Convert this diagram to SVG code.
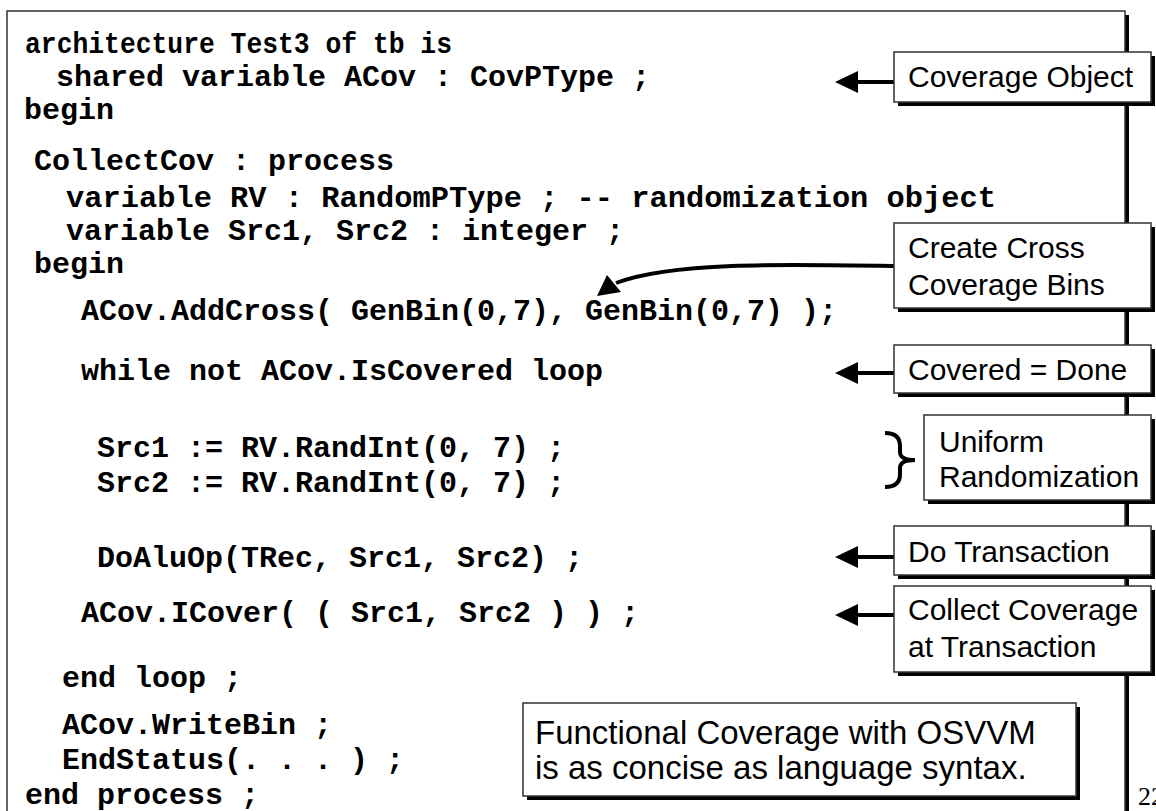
<svg xmlns="http://www.w3.org/2000/svg" width="1156" height="811" viewBox="0 0 1156 811">
<style>
.code{font-family:"Liberation Mono","Courier New",monospace;font-weight:bold;font-size:30px;fill:#000}
.lbl{font-family:"Liberation Sans",Arial,sans-serif;font-size:30px;fill:#000}
.big{font-family:"Liberation Sans",Arial,sans-serif;font-size:33px;fill:#000}
.box{fill:#fff;stroke:#333;stroke-width:1.5}
.shadow{fill:#000}
.conn{stroke:#000;stroke-width:4;fill:none}
</style>
<rect width="1156" height="811" fill="#fff"/>
<g id="frame">
<rect x="11" y="15" width="1118" height="900" class="shadow"/>
<rect x="7" y="11" width="1118" height="900" class="box"/>
</g>
<g id="code">
<text class="code" x="25" y="53" textLength="427" lengthAdjust="spacingAndGlyphs">architecture Test3 of tb is</text>
<text class="code" x="56" y="86">shared variable ACov : CovPType ;</text>
<text class="code" x="24" y="119">begin</text>
<text class="code" x="34" y="170">CollectCov : process</text>
<text class="code" x="66" y="207" textLength="930" lengthAdjust="spacingAndGlyphs">variable RV : RandomPType ; -- randomization object</text>
<text class="code" x="66" y="240">variable Src1, Src2 : integer ;</text>
<text class="code" x="34" y="273">begin</text>
<text class="code" x="81" y="320">ACov.AddCross( GenBin(0,7), GenBin(0,7) );</text>
<text class="code" x="81" y="380">while not ACov.IsCovered loop</text>
<text class="code" x="97" y="457">Src1 := RV.RandInt(0, 7) ;</text>
<text class="code" x="97" y="492">Src2 := RV.RandInt(0, 7) ;</text>
<text class="code" x="97" y="567">DoAluOp(TRec, Src1, Src2) ;</text>
<text class="code" x="81" y="622">ACov.ICover( ( Src1, Src2 ) ) ;</text>
<text class="code" x="62" y="687">end loop ;</text>
<text class="code" x="62" y="734">ACov.WriteBin ;</text>
<text class="code" x="62" y="769">EndStatus(. . . ) ;</text>
<text class="code" x="25" y="804">end process ;</text>
</g>
<g id="connectors">
<line class="conn" x1="894" y1="82" x2="856" y2="82"/>
<polygon points="835,82 858,71 858,93"/>
<path class="conn" d="M894,266 C780,264 670,262 616,283"/>
<polygon points="597,296 607,275 621,292"/>
<line class="conn" x1="894" y1="373" x2="856" y2="373"/>
<polygon points="835,373 858,362 858,384"/>
<line class="conn" x1="894" y1="557" x2="856" y2="557"/>
<polygon points="835,557 858,546 858,568"/>
<line class="conn" x1="894" y1="615" x2="856" y2="615"/>
<polygon points="835,615 858,604 858,626"/>
<path class="conn" d="M885,433 Q900,433 900,446 L900,452 Q900,460 915,460 Q900,460 900,468 L900,474 Q900,487 885,487"/>
</g>
<g id="n-coverage-object">
<rect x="898" y="56" width="257" height="50" class="shadow"/>
<rect x="894" y="52" width="257" height="50" class="box"/>
<text class="lbl" x="908" y="87">Coverage Object</text>
</g>
<g id="n-cross-bins">
<rect x="898" y="227" width="257" height="85" class="shadow"/>
<rect x="894" y="223" width="257" height="85" class="box"/>
<text class="lbl" x="908" y="258">Create Cross</text>
<text class="lbl" x="908" y="295">Coverage Bins</text>
</g>
<g id="n-covered-done">
<rect x="898" y="349" width="257" height="48" class="shadow"/>
<rect x="894" y="345" width="257" height="48" class="box"/>
<text class="lbl" x="908" y="380">Covered = Done</text>
</g>
<g id="n-uniform">
<rect x="928" y="419" width="227" height="85" class="shadow"/>
<rect x="924" y="415" width="227" height="85" class="box"/>
<text class="lbl" x="939" y="452">Uniform</text>
<text class="lbl" x="939" y="487">Randomization</text>
</g>
<g id="n-do-transaction">
<rect x="898" y="530" width="257" height="49" class="shadow"/>
<rect x="894" y="526" width="257" height="49" class="box"/>
<text class="lbl" x="908" y="562">Do Transaction</text>
</g>
<g id="n-collect">
<rect x="898" y="590" width="257" height="86" class="shadow"/>
<rect x="894" y="586" width="257" height="86" class="box"/>
<text class="lbl" x="908" y="620">Collect Coverage</text>
<text class="lbl" x="908" y="657">at Transaction</text>
</g>
<g id="n-summary">
<rect x="527" y="707" width="553" height="93" class="shadow"/>
<rect x="523" y="703" width="553" height="93" class="box"/>
<text class="big" x="535" y="744">Functional Coverage with OSVVM</text>
<text class="big" x="535" y="779">is as concise as language syntax.</text>
</g>
<text x="1138" y="805" style="font-family:'Liberation Serif',serif;font-size:26px">22</text>
</svg>
